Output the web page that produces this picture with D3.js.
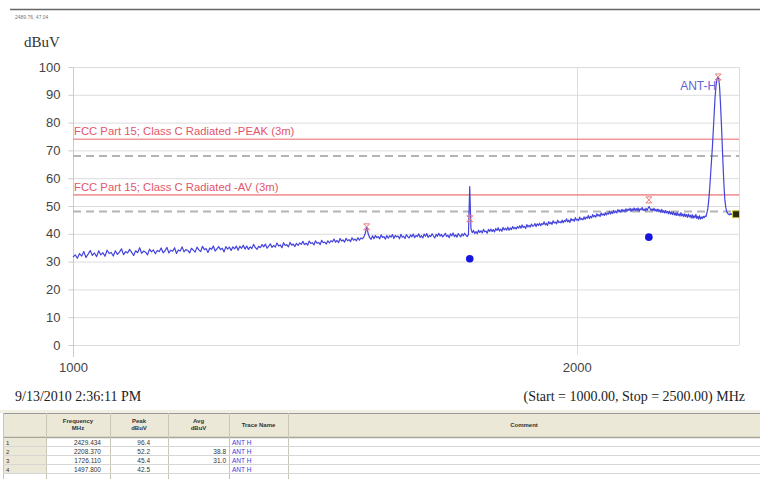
<!DOCTYPE html>
<html>
<head>
<meta charset="utf-8">
<script src="https://cdn.jsdelivr.net/npm/d3@7"></script>
<style>
body { margin: 0; background: #fff; }
svg { display: block; }
</style>
</head>
<body>
<div id="chart"></div>
<script>
let width = 760, height = 479
let plot = { left: 73, right: 739, top: 67, bottom: 345 }

// sweep: 1000 -> 2500 MHz, 3 MHz per point (one row = 60 MHz)
const sweepStart = 1000, sweepStep = 3
const traceLevels = [
	31.6,32.4,31.2,32.9,32.0,33.6,31.5,32.7,34.0,32.2,33.1,31.8,33.9,32.4,33.2,31.9,34.1,32.9,33.3,32.0,
	33.9,32.6,33.4,34.6,32.5,33.6,33.1,34.4,33.3,32.2,33.9,33.2,35.0,33.0,33.8,33.4,32.4,34.5,33.5,34.2,
	32.8,34.0,33.6,34.9,33.2,33.9,35.1,33.1,34.1,33.7,35.0,32.9,34.2,33.8,35.3,33.5,34.3,34.0,33.1,34.8,
	34.1,33.4,35.2,34.2,33.6,35.5,34.3,34.7,33.3,34.9,34.4,35.6,33.8,34.6,35.4,34.3,34.8,33.5,35.4,34.5,
	35.2,34.0,35.3,34.6,35.6,34.1,35.5,34.8,35.9,34.5,35.6,34.4,35.3,34.7,36.2,35.1,34.4,35.5,35.0,36.1,
	35.3,36.3,34.8,35.6,36.4,35.1,35.8,35.2,36.7,35.6,36.0,35.0,36.8,35.8,36.1,35.3,36.9,35.9,36.3,35.4,
	36.6,35.8,36.7,36.2,37.3,36.1,36.6,35.9,37.4,36.5,36.8,36.0,37.5,36.6,36.9,36.1,37.7,36.8,37.0,36.3,
	37.5,36.7,37.5,37.1,38.1,37.0,37.6,36.8,38.3,37.4,37.8,37.0,38.4,37.5,37.9,37.2,38.6,37.7,38.1,37.5,
	38.6,37.7,38.5,38.2,38.8,40.2,42.5,40.0,38.6,38.0,39.3,38.2,39.4,38.6,39.0,38.2,39.6,38.7,39.0,38.1,
	39.4,38.4,39.3,38.8,39.7,38.3,39.4,38.9,39.2,38.2,39.8,38.8,39.1,38.3,39.7,39.0,38.5,39.6,38.9,39.9,
	38.6,39.4,39.0,40.0,38.7,39.3,38.5,39.9,39.1,40.1,38.7,39.4,39.0,40.0,39.2,38.5,39.8,39.1,40.2,39.2,
	39.8,38.9,39.4,40.2,39.0,39.5,38.6,40.0,39.3,40.3,39.0,39.6,38.8,40.1,39.4,38.9,40.0,39.3,40.2,39.5,
	39.0,39.8,57.0,41.8,40.4,41.2,40.1,40.8,40.0,41.3,40.5,41.1,40.3,41.6,40.7,41.0,40.2,41.6,40.8,41.7,
	40.8,41.5,40.7,41.9,41.2,42.2,41.0,41.7,40.9,42.3,41.4,42.0,41.3,42.4,41.3,42.1,41.5,42.6,41.8,42.3,
	41.7,42.6,42.0,42.9,42.0,43.2,42.3,42.7,41.9,43.3,42.5,43.0,42.4,43.5,42.7,42.9,43.7,42.6,43.6,43.0,
	43.8,42.9,43.7,43.3,44.3,43.2,43.8,43.0,44.4,43.6,44.1,43.4,44.7,43.9,44.2,43.6,44.9,44.0,44.4,43.9,
	44.9,44.0,44.8,44.4,45.4,44.3,44.9,44.1,45.5,44.7,45.2,44.5,45.8,44.9,45.3,44.7,46.0,45.1,45.5,45.0,
	46.1,45.2,46.0,45.6,46.6,45.5,46.3,45.7,46.9,46.1,46.6,46.0,47.2,46.4,46.9,46.2,47.5,46.7,47.2,46.6,
	47.6,46.8,47.5,47.1,48.1,47.1,47.9,47.3,48.4,47.6,48.2,47.5,48.7,47.9,48.5,47.8,48.8,48.1,48.6,47.9,
	49.0,48.1,48.9,48.4,49.2,48.0,49.0,48.3,49.3,48.4,49.1,48.3,49.3,48.1,49.0,48.6,49.5,48.4,48.9,48.2,
	49.2,48.4,49.2,49.8,49.1,48.4,49.0,48.3,49.2,48.2,48.8,48.0,48.9,48.1,48.6,47.7,48.8,47.7,48.3,47.5,
	48.4,47.5,48.1,47.2,48.2,47.1,47.8,46.9,47.9,46.8,47.5,46.6,47.7,46.6,47.2,46.4,47.6,46.4,47.1,46.2,
	47.2,46.2,46.9,45.9,47.1,46.1,46.7,45.7,46.9,45.6,46.5,45.8,47.0,45.5,46.3,45.3,46.5,45.3,46.0,45.5,
	46.3,45.8,46.4,46.2,47.5,49.0,52.0,56.0,61.0,66.0,71.0,77.0,83.0,89.0,93.0,95.5,96.4,96.0,93.0,87.0,
	80.0,72.0,64.0,57.0,52.0,49.5,48.0,47.4,47.1,46.8,47.3,46.9,47.2,46.7,47.1,47.4,46.9,47.2,47.0,47.3,
	47.0
]

const limitNames = ['FCC Part 15; Class C Radiated -PEAK (3m)', 'FCC Part 15; Class C Radiated -AV (3m)']
const limitLevels = [74, 54]
const marginLevels = [68, 48]

const markerFreqs = [2429.434, 2208.370, 1726.110, 1497.800]
const markerPeaks = [96.4, 52.2, 45.4, 42.5]
const markerAvgs = [null, 38.8, 31.0, null]
const markerTraces = ['ANT H', 'ANT H', 'ANT H', 'ANT H']

const cursorPoint = [2489.76, 47.04]
const yTicks = [0, 10, 20, 30, 40, 50, 60, 70, 80, 90, 100]
const xTicks = [1000, 2000]

let svg = d3.select('#chart')
.append('svg')
.attr('width', width)
.attr('height', height)
.style('font-family', 'Arial, "Liberation Sans", sans-serif')

let x = d3.scaleLog()
.domain([1000, 2500])
.range([plot.left, plot.right])

let y = d3.scaleLinear()
.domain([0, 100])
.range([plot.bottom, plot.top])

// top frame line + cursor readout
svg.append('line')
.attr('x1', 10).attr('x2', width).attr('y1', 9.5).attr('y2', 9.5)
.attr('stroke', '#666').attr('stroke-width', 1.5)

svg.append('text')
.attr('x', 15).attr('y', 19)
.attr('font-size', 5).attr('fill', '#777')
.text(cursorPoint[0].toFixed(2) + ', ' + cursorPoint[1].toFixed(2))

svg.append('text')
.attr('x', 24).attr('y', 47)
.attr('font-family', '"Liberation Serif", "Times New Roman", serif')
.attr('font-size', 15).attr('fill', '#333')
.text('dBuV')

// grid
svg.append('g')
.selectAll('line')
.data(yTicks)
.join('line')
.attr('x1', plot.left).attr('x2', plot.right)
.attr('y1', d => y(d) + 0.5).attr('y2', d => y(d) + 0.5)
.attr('stroke', '#dcdcdc')

svg.append('line')
.attr('x1', Math.round(x(2000)) + 0.5).attr('x2', Math.round(x(2000)) + 0.5)
.attr('y1', plot.top).attr('y2', plot.bottom + 10)
.attr('stroke', '#dcdcdc')

svg.append('line')
.attr('x1', plot.right + 0.5).attr('x2', plot.right + 0.5)
.attr('y1', plot.top).attr('y2', plot.bottom)
.attr('stroke', '#dcdcdc')

// y axis
let yAxis = svg.append('g')
.attr('transform', `translate(${plot.left + 0.5}, 0)`)
.call(d3.axisLeft(y).tickValues(yTicks).tickSize(5).tickPadding(8).tickFormat(d3.format('d')))

yAxis.select('.domain').attr('stroke', '#ccc').attr('d', `M0,${plot.top}V${plot.bottom + 12}`)
yAxis.selectAll('.tick line').attr('stroke', '#ccc')
yAxis.selectAll('.tick text').attr('font-size', 13).attr('fill', '#444').attr('font-family', 'Arial, "Liberation Sans", sans-serif')

// x axis labels
let xAxis = svg.append('g')
.attr('transform', `translate(0, ${plot.bottom})`)
.call(d3.axisBottom(x).tickValues(xTicks).tickSize(0).tickPadding(18).tickFormat(d3.format('d')))

xAxis.select('.domain').remove()
xAxis.selectAll('.tick text').attr('font-size', 13).attr('fill', '#444').attr('font-family', 'Arial, "Liberation Sans", sans-serif')

// limit lines
svg.append('g')
.selectAll('line')
.data(marginLevels)
.join('line')
.attr('x1', plot.left).attr('x2', plot.right)
.attr('y1', d => y(d)).attr('y2', d => y(d))
.attr('stroke', '#b4b4b4').attr('stroke-width', 2).attr('stroke-dasharray', '8,5')

svg.append('g')
.selectAll('line')
.data(limitLevels)
.join('line')
.attr('x1', plot.left).attr('x2', plot.right)
.attr('y1', d => y(d)).attr('y2', d => y(d))
.attr('stroke', '#f19a9a').attr('stroke-width', 1.6)

svg.append('g')
.selectAll('text')
.data(limitNames)
.join('text')
.attr('x', plot.left + 1)
.attr('y', (d, i) => y(limitLevels[i]) - 4)
.attr('font-size', 11.3).attr('fill', '#e4556a')
.text(d => d)

// trace
let tracePoints = traceLevels.map((v, i) => [sweepStart + i * sweepStep, v])

svg.append('path')
.datum(tracePoints)
.attr('d', d3.line().x(d => x(d[0])).y(d => y(d[1])))
.attr('fill', 'none')
.attr('stroke', '#4444dd')
.attr('stroke-width', 1.2)
.attr('stroke-linejoin', 'round')

// peak markers
svg.append('g')
.selectAll('path')
.data(markerFreqs)
.join('path')
.attr('transform', (d, i) => `translate(${x(d)}, ${y(markerPeaks[i])})`)
.attr('d', 'M-3,-3L3,-3L-3,3L3,3Z')
.attr('fill', 'none')
.attr('stroke', '#ee7b7b')
.attr('stroke-width', 1)

// average markers
svg.append('g')
.selectAll('circle')
.data(markerFreqs.map((f, i) => [f, markerAvgs[i]]).filter(d => d[1] != null))
.join('circle')
.attr('cx', d => x(d[0]))
.attr('cy', d => y(d[1]))
.attr('r', 3.8)
.attr('fill', '#1616e0')

svg.append('text')
.attr('x', x(markerFreqs[0]) - 2)
.attr('y', y(markerPeaks[0]) + 13)
.attr('text-anchor', 'end')
.attr('font-size', 12).attr('fill', '#6363d6')
.text('ANT-H')

// cursor
svg.append('rect')
.attr('x', x(cursorPoint[0]) - 3.5)
.attr('y', y(cursorPoint[1]) - 3.5)
.attr('width', 7).attr('height', 7)
.attr('fill', '#2a2a10')
.attr('stroke', '#d8d040').attr('stroke-width', 1)

// footer
svg.append('text')
.attr('x', 15).attr('y', 401)
.attr('font-family', '"Liberation Serif", "Times New Roman", serif')
.attr('font-size', 14).attr('fill', '#222')
.text('9/13/2010 2:36:11 PM')

svg.append('text')
.attr('x', 745).attr('y', 401)
.attr('text-anchor', 'end')
.attr('font-family', '"Liberation Serif", "Times New Roman", serif')
.attr('font-size', 14).attr('fill', '#222')
.text('(Start = 1000.00, Stop = 2500.00) MHz')

// marker table
let tableTop = 413, headH = 25, rowH = 9
let cols = [3, 46, 110, 168, 229, 288, 760]
let headers = [[''], ['Frequency', 'MHz'], ['Peak', 'dBuV'], ['Avg', 'dBuV'], ['Trace Name'], ['Comment']]

let table = svg.append('g')

table.append('rect')
.attr('x', 0).attr('y', tableTop - 3).attr('width', width).attr('height', 3)
.attr('fill', '#f1efe4')

table.append('rect')
.attr('x', cols[0]).attr('y', tableTop).attr('width', width - cols[0]).attr('height', headH)
.attr('fill', '#ebe8d8')

table.append('line')
.attr('x1', cols[0]).attr('x2', width).attr('y1', tableTop + 0.5).attr('y2', tableTop + 0.5)
.attr('stroke', '#999')

table.append('line')
.attr('x1', cols[0]).attr('x2', width).attr('y1', tableTop + headH - 0.5).attr('y2', tableTop + headH - 0.5)
.attr('stroke', '#a8a598').attr('stroke-width', 1.5)

table.selectAll('.col-sep')
.data(cols.slice(0, -1))
.join('line')
.attr('class', 'col-sep')
.attr('x1', d => d + 0.5).attr('x2', d => d + 0.5)
.attr('y1', tableTop).attr('y2', height)
.attr('stroke', '#c9c6b6')

table.selectAll('.head')
.data(headers)
.join('text')
.attr('class', 'head')
.attr('x', (d, i) => (cols[i] + cols[i + 1]) / 2)
.attr('y', d => d.length > 1 ? tableTop + 10 : tableTop + 14)
.attr('text-anchor', 'middle')
.attr('font-size', 6).attr('font-weight', 'bold').attr('fill', '#333')
.selectAll('tspan')
.data(d => d)
.join('tspan')
.attr('x', function() { return d3.select(this.parentNode).attr('x') })
.attr('dy', (d, i) => i ? 7 : 0)
.text(d => d)

let rows = table.selectAll('.row')
.data(markerFreqs)
.join('g')
.attr('class', 'row')
.attr('transform', (d, i) => `translate(0, ${tableTop + headH + i * rowH})`)

rows.append('rect')
.attr('x', cols[0] + 1).attr('y', 0).attr('width', cols[1] - cols[0] - 1).attr('height', rowH)
.attr('fill', '#ebe8d8')

rows.append('line')
.attr('x1', cols[0]).attr('x2', width).attr('y1', rowH - 0.5).attr('y2', rowH - 0.5)
.attr('stroke', '#d6d6d6')

rows.append('text')
.attr('x', cols[0] + 3).attr('y', 7)
.attr('font-size', 6).attr('fill', '#333')
.text((d, i) => i + 1)

rows.append('text')
.attr('x', cols[2] - 9).attr('y', 7)
.attr('text-anchor', 'end').attr('font-size', 6.5).attr('fill', '#333')
.text(d => d.toFixed(3))

rows.append('text')
.attr('x', cols[3] - 18).attr('y', 7)
.attr('text-anchor', 'end').attr('font-size', 6.5).attr('fill', '#333')
.text((d, i) => markerPeaks[i].toFixed(1))

rows.append('text')
.attr('x', cols[4] - 3).attr('y', 7)
.attr('text-anchor', 'end').attr('font-size', 6.5).attr('fill', '#333')
.text((d, i) => markerAvgs[i] == null ? '' : markerAvgs[i].toFixed(1))

rows.append('text')
.attr('x', cols[4] + 3).attr('y', 7)
.attr('font-size', 6.5).attr('fill', '#3a3ae0')
.text((d, i) => markerTraces[i])
</script>
</body>
</html>
